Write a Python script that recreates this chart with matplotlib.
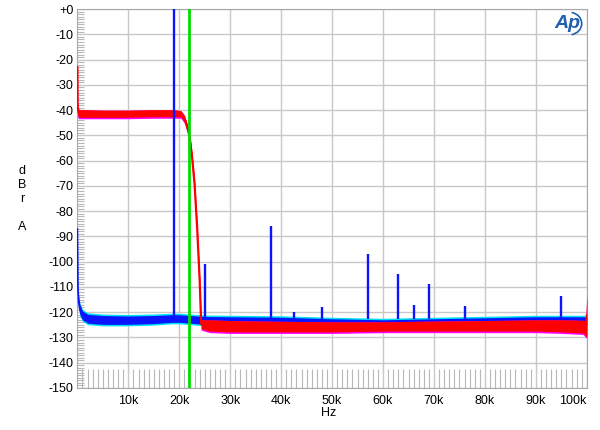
import matplotlib
matplotlib.use("Agg")
import matplotlib.pyplot as plt
from matplotlib.patches import Arc

plt.rcParams['font.family'] = ['Liberation Sans', 'DejaVu Sans']

# red / magenta trace (kHz, dBrA band edges)
red_f = [0, 0.05, 0.3, 1, 5, 10, 15, 19, 20.3, 21, 21.5, 22, 22.5, 23, 23.5,
         24, 24.3, 26, 30, 40, 50, 60, 70, 80, 90, 95, 99.3, 99.8, 100]
red_hi = [-23, -37, -39.8, -39.8, -40, -40, -39.8, -39.8, -40.2, -42, -45, -49,
          -57, -68, -85, -106, -123, -123, -123.3, -123.6, -123.8, -123.8, -123.5,
          -123.3, -123, -123, -123.2, -123.5, -113]
red_lo = [-23, -42, -42.8, -42.8, -42.8, -42.8, -42.6, -42.6, -42.6, -44.5, -47.5,
          -51.5, -59.5, -70.5, -87.5, -108.5, -126.5, -127.5, -127.8, -127.8,
          -127.8, -127.5, -127.5, -127.5, -127.5, -127.8, -128.2, -129.5, -129.5]

# blue / cyan trace
blue_f = [0, 0.1, 0.25, 0.5, 1, 2, 3, 5, 10, 15, 18.5, 20, 22, 25, 30, 40, 50,
          60, 70, 80, 90, 95, 99.5, 100]
blue_hi = [-87, -108, -114, -117, -119.5, -120.8, -121, -121.3, -121.5, -121.3,
           -121, -121, -121.3, -121.7, -121.8, -122, -122.6, -123, -122.6,
           -122.2, -121.8, -121.8, -121.8, -122.2]
blue_lo = [-87, -112, -118, -121, -123, -124.3, -124.5, -124.8, -124.8, -124.5,
           -124, -124, -124.3, -124.8, -125, -125, -125.5, -125.5, -125.5, -125,
           -125, -125, -125, -125]

# blue spurious tones
spike_f = [19, 25, 38, 42.6, 48, 57, 63, 66, 69, 76, 95]
spike_lvl = [0, -101, -86, -120, -118, -97, -105, -117, -109, -117.5, -113.5]
spike_floor = -122.5

marker_f = 22  # green marker

xticks = [10, 20, 30, 40, 50, 60, 70, 80, 90, 100]
yticks = list(range(0, -151, -10))

fig = plt.figure(figsize=(6, 4.3), dpi=100)
ax = fig.add_axes([0.129, 0.0977, 0.849, 0.881])

# blue trace
ax.fill_between(blue_f, [v - 0.6 for v in blue_lo], [v + 0.6 for v in blue_hi],
                color='#00e0f0', lw=0, zorder=2)
ax.fill_between(blue_f, blue_lo, blue_hi, color='#0a14ff', lw=0, zorder=3)
ax.plot(blue_f, [(a + b) / 2 for a, b in zip(blue_lo, blue_hi)], color='#0a14ff', lw=1.2, zorder=3)

# red trace
ax.fill_between(red_f, [v - 0.6 for v in red_lo], red_hi, color='#ff00ff', lw=0, zorder=4)
ax.fill_between(red_f, red_lo, red_hi, color='#ff0000', lw=0, zorder=5)
ax.plot(red_f, [(a + b) / 2 for a, b in zip(red_lo, red_hi)], color='#ff0000', lw=1.6, zorder=5)

# spikes
ax.vlines(spike_f, spike_floor, spike_lvl, color='#0a14ff', lw=1.7, zorder=6)

ax.axvline(marker_f, color='#00dd00', lw=2, zorder=7)

ax.set_xlim(0, 100)
ax.set_ylim(-150, 0)
ax.set_xticks(xticks)
ax.set_xticklabels(['%dk' % v for v in xticks])
ax.set_yticks(yticks)
ax.set_yticklabels(['+0'] + [str(v) for v in yticks[1:]])
ax.get_xticklabels()[-1].set_ha('right')
ax.set_xticks(range(1, 100), minor=True)
ax.set_yticks(range(-149, 0), minor=True)
ax.tick_params(which='major', length=0, labelsize=9, pad=3)
ax.tick_params(axis='x', which='major', pad=5)
ax.tick_params(axis='x', which='minor', direction='in', length=14, width=0.8, color='#b8b8b8')
ax.tick_params(axis='y', which='minor', direction='in', length=5, width=0.8, color='#b8b8b8')
ax.grid(True, which='major', color='#c8c8c8', lw=1)
for s in ax.spines.values():
    s.set_color('#a8a8a8')

# AP logo
ax.text(0.962, 0.962, 'Ap', transform=ax.transAxes, ha='center', va='center',
        fontsize=14, fontstyle='italic', fontweight='bold', color='#1f5fae', zorder=8)
ax.add_patch(Arc((0.965, 0.962), 0.05, 0.06, transform=ax.transAxes, theta1=-80,
                 theta2=80, color='#1f5fae', lw=1.2, zorder=8))

fig.text(0.037, 0.537, 'd\nB\nr\n\nA', ha='center', va='center', fontsize=9)
fig.text(0.547, 0.04, 'Hz', ha='center', va='center', fontsize=9)

fig.savefig('out.png', dpi=100)
